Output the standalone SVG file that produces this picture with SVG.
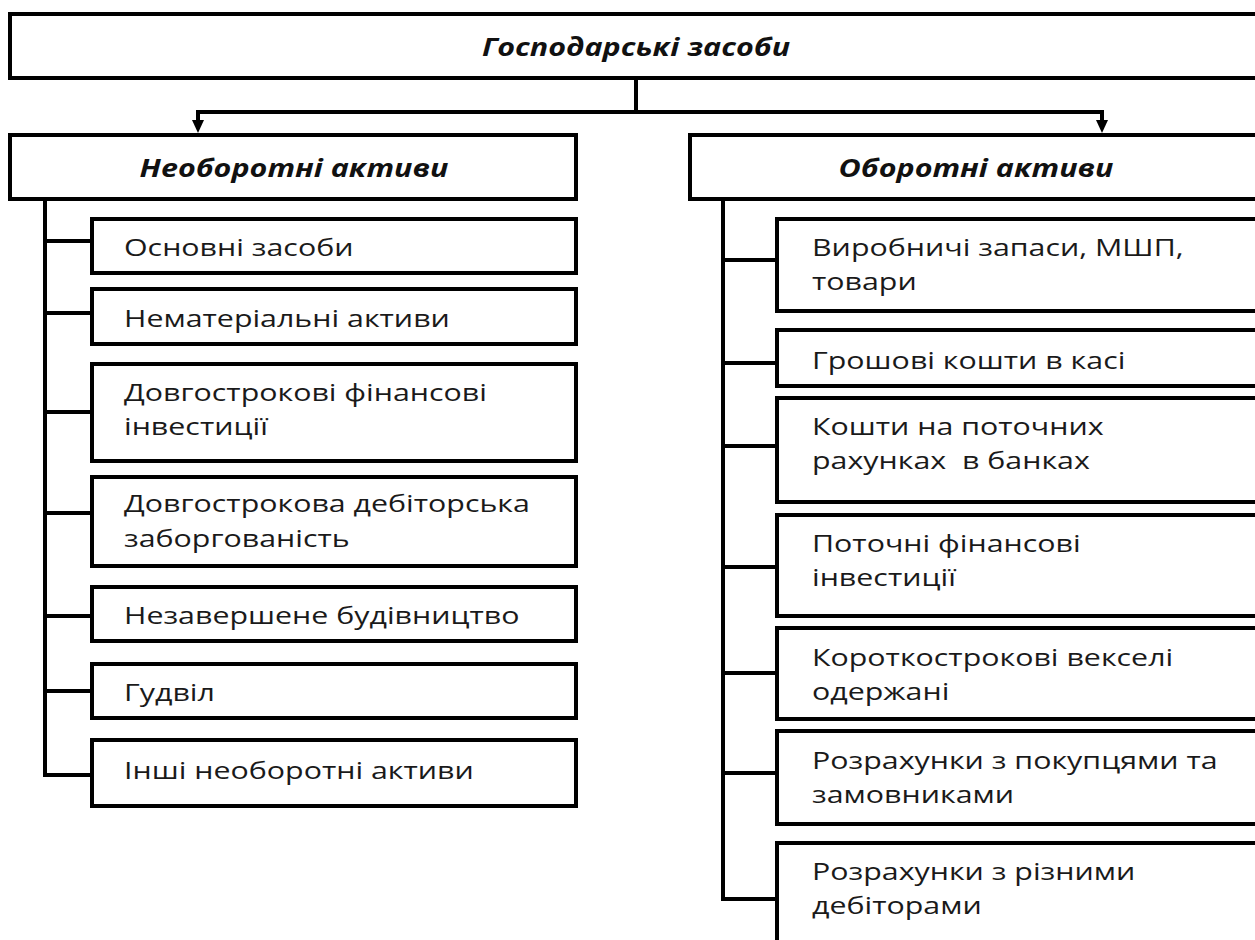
<svg xmlns="http://www.w3.org/2000/svg" width="1255" height="940" viewBox="0 0 1255 940">
<style>
.box{fill:#fff;stroke:#000;stroke-width:4}
.hd{font-family:"Open Sans","Liberation Sans",sans-serif;font-size:25px;font-weight:700;font-style:italic;fill:#111;text-anchor:middle}
.t{font-family:"Open Sans","Liberation Sans",sans-serif;font-size:24px;font-weight:500;fill:#1a1a1a}
.c{fill:none;stroke:#000;stroke-width:4}
</style>
<rect width="1255" height="940" fill="#fff"/>
<g id="connectors">
<path class="c" d="M636,80 V112"/>
<path class="c" d="M198,112 H1102"/>
<path class="c" d="M198,110 V122" stroke-width="3"/>
<path class="c" d="M1102,110 V122" stroke-width="3"/>
<path d="M192,120 L204,120 L198,133 Z" fill="#000"/>
<path d="M1096,120 L1108,120 L1102,133 Z" fill="#000"/>
<path class="c" d="M45,200 V775 H92"/>
<path class="c" d="M45,241 H92 M45,313 H92 M45,412 H92 M45,513 H92 M45,616 H92 M45,691 H92"/>
<path class="c" d="M723,200 V899 H777"/>
<path class="c" d="M723,260 H777 M723,363 H777 M723,446 H777 M723,567 H777 M723,673 H777 M723,773 H777"/>
</g>
<g id="n-root">
<rect class="box" x="10" y="14" width="1260" height="64"/>
<text class="hd" transform="matrix(1.22,0,0,1,636,56)">Господарські засоби</text>
</g>
<g id="n-left">
<rect class="box" x="10" y="135" width="566" height="64"/>
<text class="hd" transform="matrix(1.22,0,0,1,294,177)">Необоротні активи</text>
</g>
<g id="n-right">
<rect class="box" x="690" y="135" width="580" height="64"/>
<text class="hd" transform="matrix(1.22,0,0,1,976,177)">Оборотні активи</text>
</g>
<g id="l1"><rect class="box" x="92" y="219" width="484" height="54"/><text class="t" transform="matrix(1.265,0,0,1,124,256)">Основні засоби</text></g>
<g id="l2"><rect class="box" x="92" y="289" width="484" height="55"/><text class="t" transform="matrix(1.265,0,0,1,124,327)">Нематеріальні активи</text></g>
<g id="l3"><rect class="box" x="92" y="364" width="484" height="97"/><text class="t" transform="matrix(1.265,0,0,1,124,401)">Довгострокові фінансові</text><text class="t" transform="matrix(1.265,0,0,1,124,435)">інвестиції</text></g>
<g id="l4"><rect class="box" x="92" y="477" width="484" height="89"/><text class="t" transform="matrix(1.265,0,0,1,124,512)">Довгострокова дебіторська</text><text class="t" transform="matrix(1.265,0,0,1,124,547)">заборгованість</text></g>
<g id="l5"><rect class="box" x="92" y="587" width="484" height="54"/><text class="t" transform="matrix(1.265,0,0,1,124,624)">Незавершене будівництво</text></g>
<g id="l6"><rect class="box" x="92" y="664" width="484" height="54"/><text class="t" transform="matrix(1.265,0,0,1,124,701)">Гудвіл</text></g>
<g id="l7"><rect class="box" x="92" y="740" width="484" height="66"/><text class="t" transform="matrix(1.265,0,0,1,124,779)">Інші необоротні активи</text></g>
<g id="r1"><rect class="box" x="777" y="219" width="493" height="92"/><text class="t" transform="matrix(1.265,0,0,1,812,256)">Виробничі запаси, МШП,</text><text class="t" transform="matrix(1.265,0,0,1,812,290)">товари</text></g>
<g id="r2"><rect class="box" x="777" y="330" width="493" height="56"/><text class="t" transform="matrix(1.265,0,0,1,812,369)">Грошові кошти в касі</text></g>
<g id="r3"><rect class="box" x="777" y="398" width="493" height="104"/><text class="t" transform="matrix(1.265,0,0,1,812,435)">Кошти на поточних</text><text class="t" transform="matrix(1.265,0,0,1,812,469)" xml:space="preserve">рахунках  в банках</text></g>
<g id="r4"><rect class="box" x="777" y="515" width="493" height="101"/><text class="t" transform="matrix(1.265,0,0,1,812,552)">Поточні фінансові</text><text class="t" transform="matrix(1.265,0,0,1,812,586)">інвестиції</text></g>
<g id="r5"><rect class="box" x="777" y="628" width="493" height="91"/><text class="t" transform="matrix(1.265,0,0,1,812,666)">Короткострокові векселі</text><text class="t" transform="matrix(1.265,0,0,1,812,700)">одержані</text></g>
<g id="r6"><rect class="box" x="777" y="731" width="493" height="93"/><text class="t" transform="matrix(1.265,0,0,1,812,769)">Розрахунки з покупцями та</text><text class="t" transform="matrix(1.265,0,0,1,812,803)">замовниками</text></g>
<g id="r7"><rect class="box" x="777" y="843" width="493" height="120"/><text class="t" transform="matrix(1.265,0,0,1,812,880)">Розрахунки з різними</text><text class="t" transform="matrix(1.265,0,0,1,812,914)">дебіторами</text></g>
</svg>
